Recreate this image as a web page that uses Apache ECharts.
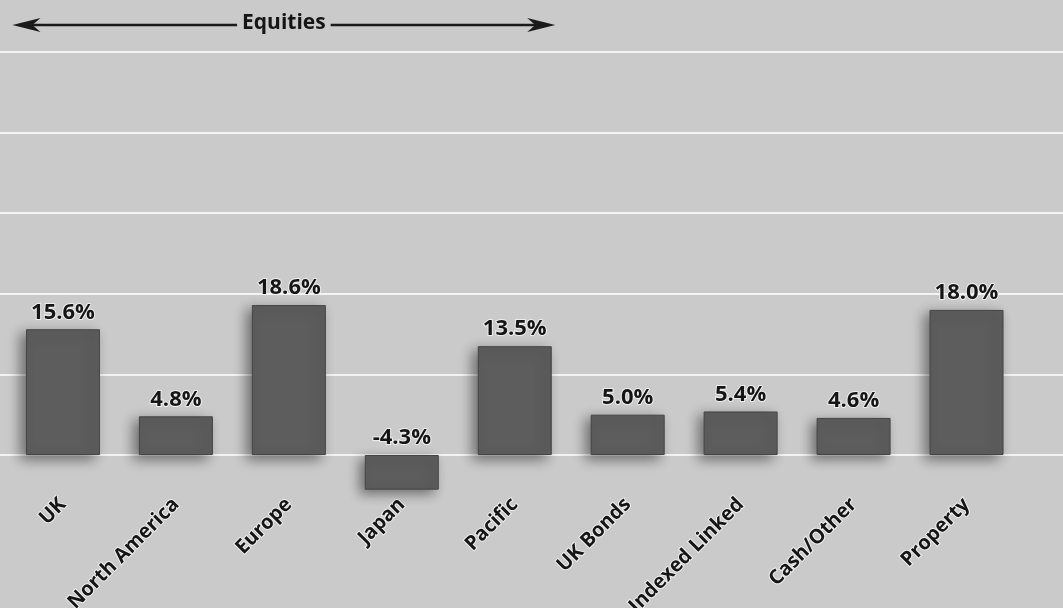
<!DOCTYPE html>
<html><head><meta charset="utf-8">
<script src="https://cdn.jsdelivr.net/npm/echarts@6/dist/echarts.min.js"></script>
<style>html,body{margin:0;padding:0;background:#cacaca}#c{width:1063px;height:608px}</style>
</head><body><div id="c"></div>
<script>
var categories = ['UK','North America','Europe','Japan','Pacific','UK Bonds','Indexed Linked','Cash/Other','Property'];
var returns = [15.6, 4.8, 18.6, -4.3, 13.5, 5.0, 5.4, 4.6, 18.0];
var gridMin = -10, gridMax = 50, gridStep = 10;
var barMin = -5;
var groupLabel = 'Equities';
var groupFrom = 'UK', groupTo = 'Pacific';

(function(){
var BG = '#cacaca';
var chart = echarts.init(document.getElementById('c'), null, {renderer:'canvas'});
var halo = {textBorderColor:'rgba(245,245,245,0.85)', textBorderWidth:2};
var splitColors = ['rgba(0,0,0,0)'];
for (var v = gridMin + gridStep; v <= gridMax; v += gridStep) splitColors.push('#f3f3f3');

var plotTop = 52, zeroY = 455;
var unit = (zeroY - plotTop) / gridMax;
var bottomGrid = 608 - (zeroY - gridMin * unit);
var bottomBars = 608 - (zeroY - barMin * unit);

chart.setOption({
  backgroundColor: BG,
  animation: false,
  grid: [
    {left:0, right:0, top:plotTop, bottom:bottomGrid, outerBoundsMode:'none', containLabel:false},
    {left:6.5, right:40, top:plotTop, bottom:bottomBars, outerBoundsMode:'none', containLabel:false}
  ],
  xAxis: [
    {type:'value', gridIndex:0, min:0, max:1, show:false},
    {type:'category', gridIndex:1, data:categories,
     axisLine:{show:false, onZero:false},
     axisTick:{show:false},
     axisLabel:Object.assign({interval:0, rotate:45, margin:6, color:'#151515',
       fontFamily:'Open Sans', fontWeight:'bold', fontSize:20}, halo)}
  ],
  yAxis: [
    {type:'value', gridIndex:0, min:gridMin, max:gridMax, interval:gridStep,
     axisLine:{show:false}, axisTick:{show:false}, axisLabel:{show:false},
     splitLine:{show:true, lineStyle:{color:splitColors, width:2}}},
    {type:'value', gridIndex:1, min:barMin, max:gridMax, show:false,
     splitLine:{show:false}}
  ],
  series: [{
    type:'bar', xAxisIndex:1, yAxisIndex:1, data:returns, barWidth:74,
    itemStyle:{color:'#5d5d5d', borderColor:'#454545', borderWidth:1,
      shadowBlur:12, shadowColor:'rgba(0,0,0,0.45)', shadowOffsetX:-5, shadowOffsetY:4},
    label:Object.assign({show:true, position:'top', distance:6, color:'#151515',
      fontFamily:'Open Sans', fontWeight:'bold', fontSize:22,
      formatter:function(p){return p.value.toFixed(1)+'%';}}, halo)
  }]
});

var band = 1017/categories.length;
var cFrom = chart.convertToPixel({xAxisIndex:1}, groupFrom);
var cTo = chart.convertToPixel({xAxisIndex:1}, groupTo);
var x0 = cFrom - band/2 + 6, x1 = cTo + band/2 - 16, ay = 25;
chart.setOption({graphic:[
  {type:'line', shape:{x1:x0+10, y1:ay, x2:x1-10, y2:ay}, style:{stroke:'#1a1a1a', lineWidth:2.5}},
  {type:'polygon', shape:{points:[[x0,ay],[x0+28,ay-7],[x0+20,ay],[x0+28,ay+7]]}, style:{fill:'#1a1a1a'}},
  {type:'polygon', shape:{points:[[x1,ay],[x1-28,ay-7],[x1-20,ay],[x1-28,ay+7]]}, style:{fill:'#1a1a1a'}},
  {type:'text', x:(x0+x1)/2, y:ay-2, style:{text:groupLabel, fill:'#151515', font:'bold 21px "Open Sans"',
    align:'center', verticalAlign:'middle', backgroundColor:BG, padding:[0,5]}}
]});
})();
</script></body></html>
